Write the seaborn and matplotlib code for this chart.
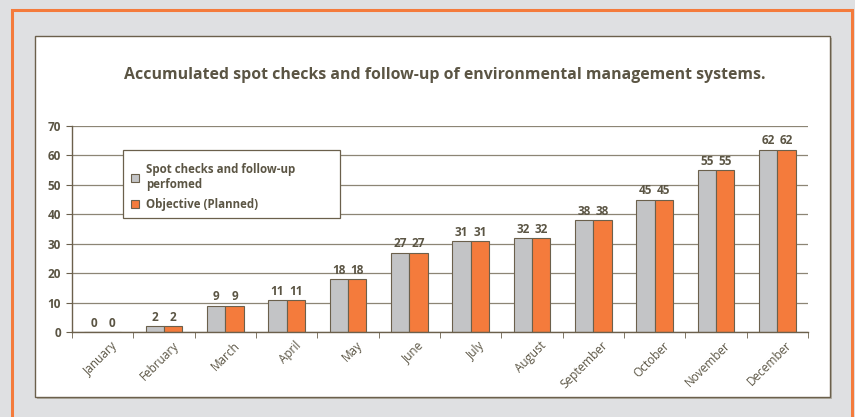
import pandas as pd
import seaborn as sns
import matplotlib.pyplot as plt
import matplotlib.transforms as mtransforms
from matplotlib.patches import Rectangle
from matplotlib.ticker import FixedLocator

# data
months = ["January", "February", "March", "April", "May", "June", "July",
          "August", "September", "October", "November", "December"]
performed = [0, 2, 9, 11, 18, 27, 31, 32, 38, 45, 55, 62]
planned = [0, 2, 9, 11, 18, 27, 31, 32, 38, 45, 55, 62]
series_names = ["Spot checks and follow-up\nperfomed", "Objective (Planned)"]

df = pd.DataFrame({
    "month": months * 2,
    "value": performed + planned,
    "series": [series_names[0]] * 12 + [series_names[1]] * 12,
})

txt = "#5b5544"
edge = "#6b604c"
grey_bar = "#c3c4c6"
orange = "#f47b3c"

sns.set_style("white")
plt.rcParams["font.family"] = ["Open Sans", "DejaVu Sans"]

W, H = 855, 417
fig = plt.figure(figsize=(W / 100, H / 100), dpi=100, facecolor="#dfe0e2")

# orange frame and white panel (behind the axes)
fig.patches.append(Rectangle((12 / W, -0.05), 840 / W, 1.05 - 9.5 / H,
                             transform=fig.transFigure, fill=False,
                             edgecolor=orange, lw=2.2, zorder=-3))
fig.patches.append(Rectangle((37 / W, 1 - 399 / H), 795 / W, 361 / H,
                             transform=fig.transFigure, facecolor="#b5b1a8",
                             edgecolor="none", zorder=-2))
fig.patches.append(Rectangle((35 / W, 1 - 397 / H), 795 / W, 361 / H,
                             transform=fig.transFigure, facecolor="white",
                             edgecolor=edge, lw=1.0, zorder=-1))

fig.text(445 / W, 1 - 75 / H,
         "Accumulated spot checks and follow-up of environmental management systems.",
         ha="center", va="center", fontsize=11.4, fontweight="bold", color=txt)

ax = fig.add_axes([72 / W, 1 - 332 / H, (808 - 72) / W, (332 - 126) / H])
ax.set_facecolor("none")

sns.barplot(data=df, x="month", y="value", hue="series",
            palette=[grey_bar, orange], width=0.6, ax=ax,
            edgecolor=edge, linewidth=0.8, saturation=1)

for c in ax.containers:
    ax.bar_label(c, padding=1.5, fontsize=8.5, fontweight="bold", color=txt)

ax.set_ylim(0, 70)
ax.set_xlim(-0.5, 11.5)
ax.set_yticks(range(0, 71, 10))
ax.yaxis.grid(True, color="#8c8575", lw=0.9)
ax.set_axisbelow(True)
for s in ["top", "right"]:
    ax.spines[s].set_visible(False)
ax.spines["left"].set_color(edge)
ax.spines["bottom"].set_color(edge)
ax.spines["left"].set_linewidth(1.0)
ax.spines["bottom"].set_linewidth(1.0)

ax.set_xlabel("")
ax.set_ylabel("")
ax.tick_params(axis="y", length=4, color=edge, labelsize=8.5, labelcolor=txt,
               pad=4, left=True)
for t in ax.get_yticklabels():
    t.set_fontweight("bold")
ax.tick_params(axis="x", which="major", length=0, labelsize=8.5,
               labelcolor=txt, pad=5)
ax.xaxis.set_minor_locator(FixedLocator([i - 0.5 for i in range(13)]))
ax.tick_params(axis="x", which="minor", length=4, color=edge, bottom=True)
shift = mtransforms.ScaledTranslation(8 / 100, 0, fig.dpi_scale_trans)
for t in ax.get_xticklabels():
    t.set_rotation(45)
    t.set_ha("right")
    t.set_rotation_mode("anchor")
    t.set_transform(t.get_transform() + shift)

# legend box drawn by hand, legend itself without frame
fig.patches.append(Rectangle((123 / W, 1 - 218 / H), 217 / W, 68 / H,
                             transform=fig.transFigure, facecolor="white",
                             edgecolor=edge, lw=0.9, zorder=2))
leg = fig.legend(*ax.get_legend_handles_labels(), loc="upper left",
                 bbox_to_anchor=(125 / W, 1 - 157 / H),
                 frameon=False, fontsize=8.3, handlelength=0.7,
                 handleheight=0.7, borderpad=0.5, labelspacing=0.65,
                 handletextpad=0.6, borderaxespad=0)
leg.set_zorder(3)
ax.get_legend().remove()
for t in leg.get_texts():
    t.set_color(txt)
    t.set_fontweight("bold")

fig.savefig("out.png", dpi=100, facecolor=fig.get_facecolor())
